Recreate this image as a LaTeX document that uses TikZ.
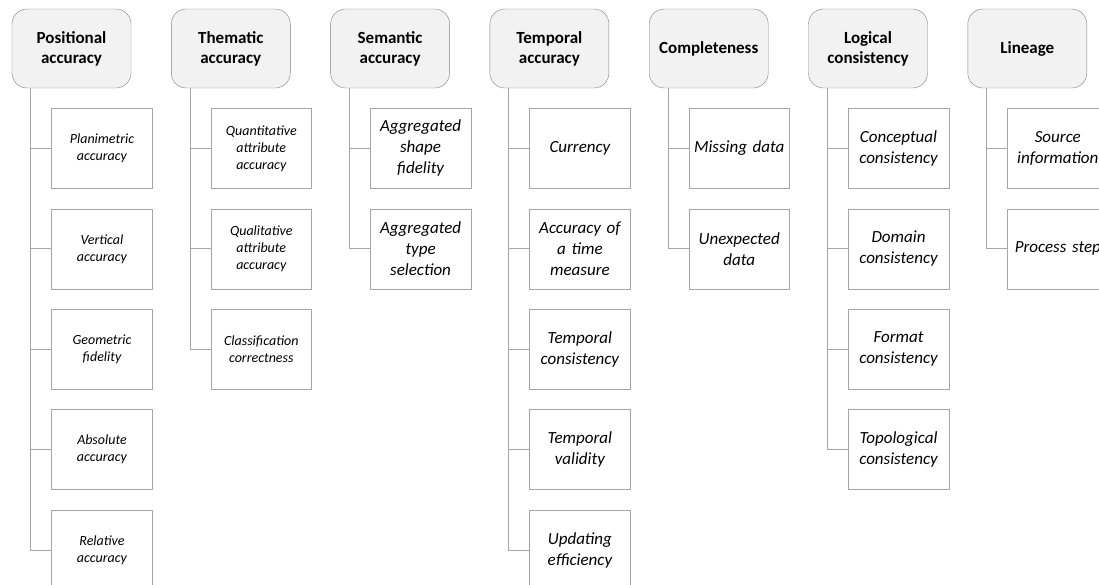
\documentclass[tikz,border=0pt]{standalone}
\usepackage{fontspec}
\setmainfont{Carlito}
\usetikzlibrary{positioning}

\definecolor{headfill}{HTML}{F2F2F2}
\definecolor{headline}{HTML}{808080}
\definecolor{leafline}{HTML}{A6A6A6}

\begin{document}
\begin{tikzpicture}[
    x=1pt,y=1pt,
    head/.style={draw=headline,fill=headfill,rectangle,rounded corners=15pt,minimum width=119pt,minimum height=79pt,text width=112pt,align=center,font=\fontsize{17}{20}\selectfont\bfseries},
    leaf/.style={draw=leafline,fill=white,rectangle,minimum width=100pt,minimum height=80pt,text width=94pt,align=center,font=\fontsize{17}{21}\selectfont\itshape},
    smallleaf/.style={leaf,font=\fontsize{14}{17}\selectfont\itshape},
    conn/.style={draw=leafline,line width=0.8pt}
    ]

  \useasboundingbox (0,0) rectangle (1099,-585);
  \clip (0,0) rectangle (1099,-585);

  % headers
  \node(pos) [head] at (71.5,-48.5) {Positional\\accuracy};
  \node(them) [head] at (230.8,-48.5) {Thematic\\accuracy};
  \node(sem) [head] at (390.1,-48.5) {Semantic\\accuracy};
  \node(temp) [head] at (549.4,-48.5) {Temporal\\accuracy};
  \node(compl) [head] at (708.7,-48.5) {Completeness};
  \node(logic) [head] at (868,-48.5) {Logical\\consistency};
  \node(lin) [head] at (1027.3,-48.5) {Lineage};

  % positional accuracy
  \node(pos1) [smallleaf,below=20pt of pos,xshift=30.5pt] {Planimetric\\accuracy};
  \node(pos2) [smallleaf,below=20pt of pos1] {Vertical\\accuracy};
  \node(pos3) [smallleaf,below=20pt of pos2] {Geometric\\fidelity};
  \node(pos4) [smallleaf,below=20pt of pos3] {Absolute\\accuracy};
  \node(pos5) [smallleaf,below=20pt of pos4] {Relative\\accuracy};

  % thematic accuracy
  \node(them1) [smallleaf,below=20pt of them,xshift=30.5pt] {Quantitative\\attribute\\accuracy};
  \node(them2) [smallleaf,below=20pt of them1] {Qualitative\\attribute\\accuracy};
  \node(them3) [smallleaf,below=20pt of them2] {Classification\\correctness};

  % semantic accuracy
  \node(sem1) [leaf,below=20pt of sem,xshift=30.5pt] {Aggregated\\shape\\fidelity};
  \node(sem2) [leaf,below=20pt of sem1] {Aggregated\\type\\selection};

  % temporal accuracy
  \node(temp1) [leaf,below=20pt of temp,xshift=30.5pt] {Currency};
  \node(temp2) [leaf,below=20pt of temp1] {Accuracy of\\a time\\measure};
  \node(temp3) [leaf,below=20pt of temp2] {Temporal\\consistency};
  \node(temp4) [leaf,below=20pt of temp3] {Temporal\\validity};
  \node(temp5) [leaf,below=20pt of temp4] {Updating\\efficiency};

  % completeness
  \node(compl1) [leaf,below=20pt of compl,xshift=30.5pt] {Missing data};
  \node(compl2) [leaf,below=20pt of compl1] {Unexpected\\data};

  % logical consistency
  \node(logic1) [leaf,below=20pt of logic,xshift=30.5pt] {Conceptual\\consistency};
  \node(logic2) [leaf,below=20pt of logic1] {Domain\\consistency};
  \node(logic3) [leaf,below=20pt of logic2] {Format\\consistency};
  \node(logic4) [leaf,below=20pt of logic3] {Topological\\consistency};

  % lineage
  \node(lin1) [leaf,below=20pt of lin,xshift=30.5pt] {Source\\information};
  \node(lin2) [leaf,below=20pt of lin1] {Process step};

  % connectors
  \draw[conn] ([xshift=19pt]pos.south west) |- (pos1.west);
  \draw[conn] ([xshift=19pt]pos.south west) |- (pos2.west);
  \draw[conn] ([xshift=19pt]pos.south west) |- (pos3.west);
  \draw[conn] ([xshift=19pt]pos.south west) |- (pos4.west);
  \draw[conn] ([xshift=19pt]pos.south west) |- (pos5.west);

  \draw[conn] ([xshift=19pt]them.south west) |- (them1.west);
  \draw[conn] ([xshift=19pt]them.south west) |- (them2.west);
  \draw[conn] ([xshift=19pt]them.south west) |- (them3.west);

  \draw[conn] ([xshift=19pt]sem.south west) |- (sem1.west);
  \draw[conn] ([xshift=19pt]sem.south west) |- (sem2.west);

  \draw[conn] ([xshift=19pt]temp.south west) |- (temp1.west);
  \draw[conn] ([xshift=19pt]temp.south west) |- (temp2.west);
  \draw[conn] ([xshift=19pt]temp.south west) |- (temp3.west);
  \draw[conn] ([xshift=19pt]temp.south west) |- (temp4.west);
  \draw[conn] ([xshift=19pt]temp.south west) |- (temp5.west);

  \draw[conn] ([xshift=19pt]compl.south west) |- (compl1.west);
  \draw[conn] ([xshift=19pt]compl.south west) |- (compl2.west);

  \draw[conn] ([xshift=19pt]logic.south west) |- (logic1.west);
  \draw[conn] ([xshift=19pt]logic.south west) |- (logic2.west);
  \draw[conn] ([xshift=19pt]logic.south west) |- (logic3.west);
  \draw[conn] ([xshift=19pt]logic.south west) |- (logic4.west);

  \draw[conn] ([xshift=19pt]lin.south west) |- (lin1.west);
  \draw[conn] ([xshift=19pt]lin.south west) |- (lin2.west);

\end{tikzpicture}
\end{document}
